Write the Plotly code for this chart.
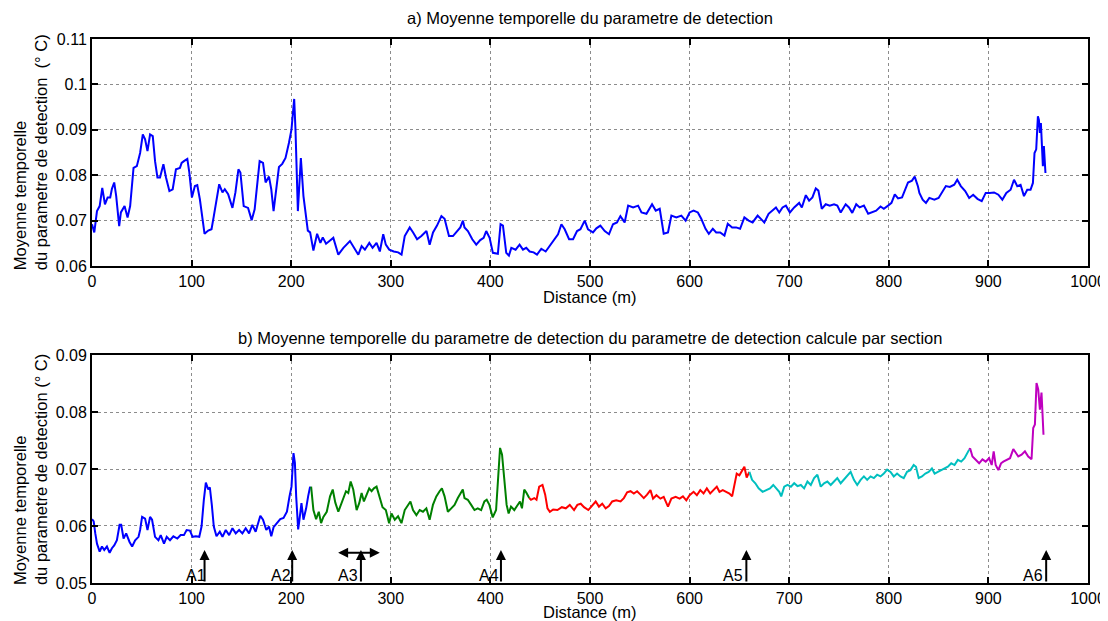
import plotly.graph_objects as go

# a) moyenne temporelle (courbe complete)
dist_a = [0, 2.3, 5, 7.7, 10.3, 13, 15.7, 18.3, 20, 22.3, 24.3, 27.3, 29, 32.7, 35.7, 38.3, 41.7, 45, 48.3, 51,
          53.3, 55.7, 58.3, 61, 63.3, 65.7, 68.3, 71.7, 74.3, 77.7, 81, 84.3, 88.3, 90, 92.3, 95.7, 97.7, 100.3,
          103.3, 105.7, 108.3, 113, 116.7, 120, 122.3, 125, 127.7, 131, 133.3, 136.7, 141, 144, 147, 149, 152.3,
          156.7, 160.3, 163.3, 168.3, 171.7, 174.3, 177.7, 180, 182.3, 185, 187.7, 191, 194.3, 197.7, 200.3, 203,
          204.3, 206.7, 209.7, 212.3, 216.7, 219, 222.3, 226, 229.3, 231.7, 235, 239, 242.3, 247.3, 252.4, 259,
          264, 267.4, 270.7, 274, 278.4, 281.7, 285.7, 289, 292.4, 295, 298.4, 303, 307.4, 310.8, 314, 319, 322.4,
          326.4, 330.7, 335.8, 339, 342.4, 346.4, 350.8, 354, 358.4, 362.4, 365.8, 369.8, 372.4, 374, 377.4, 381.8,
          385.8, 389.8, 393.2, 395.8, 399.2, 402.5, 407.5, 410.2, 412.6, 415.9, 418.6, 421, 425.3, 429.3, 432.7,
          436, 439.4, 443.4, 446.8, 451.1, 455.5, 459.5, 463.5, 467.9, 471.3, 474.6, 479, 483, 487, 490.4, 494.7,
          498, 503, 506.4, 510.4, 514.8, 519.1, 523.1, 527.1, 530.5, 534.8, 538.3, 543.3, 548.3, 551.7, 556.7,
          562.3, 566, 570, 574, 578.3, 581.7, 586.7, 591.7, 596, 600, 604, 608.3, 611.7, 616, 619.3, 623.3, 626.7,
          630.7, 635, 638.3, 642.7, 646.7, 650.7, 655, 659.3, 663.3, 668.3, 671.7, 675, 679.3, 683.3, 686.7, 690,
          693.3, 696.7, 700.7, 705, 710, 712.7, 716.7, 720, 723.3, 726.7, 729.3, 732.7, 736.7, 740.7, 745, 748.3,
          751.7, 756.7, 760, 763.3, 767.3, 770.7, 775, 779.3, 783.3, 787.3, 791.7, 795, 799.3, 802.7, 806, 809.3,
          813.3, 816, 819.3, 823.3, 826, 829.3, 830.7, 834, 837.3, 840.7, 845.7, 850, 854, 857.3, 861.3, 865.7,
          868.7, 872.3, 876.7, 880.7, 884.7, 889, 893.3, 897.3, 901.3, 905.7, 910, 914, 918, 922.3, 925.7, 929,
          932.3, 935.7, 939, 942.3, 944.7, 946.3, 948, 949.7, 950.7, 951.7, 952.7, 954, 954.7, 955.7, 957.3]
moy_a = [0.0692, 0.0674, 0.0721, 0.0732, 0.0772, 0.0736, 0.0751, 0.0751, 0.077, 0.0784, 0.0754, 0.0688, 0.0718,
         0.0732, 0.0707, 0.0732, 0.0816, 0.082, 0.0849, 0.089, 0.0879, 0.0853, 0.089, 0.0886, 0.0831, 0.0795,
         0.0795, 0.0824, 0.0795, 0.0765, 0.0769, 0.0813, 0.0816, 0.0827, 0.0831, 0.0836, 0.0806, 0.0751, 0.0776,
         0.0778, 0.0747, 0.0671, 0.0678, 0.0681, 0.071, 0.0747, 0.078, 0.0762, 0.0769, 0.0758, 0.0728, 0.0762,
         0.0813, 0.0806, 0.0732, 0.0728, 0.0701, 0.0725, 0.0831, 0.0827, 0.0784, 0.0797, 0.0769, 0.0721, 0.0776,
         0.0818, 0.0825, 0.0838, 0.0871, 0.0901, 0.0968, 0.0901, 0.0721, 0.0838, 0.0754, 0.0678, 0.0674, 0.0634,
         0.0671, 0.0651, 0.0663, 0.0649, 0.0656, 0.0662, 0.0625, 0.064, 0.0655, 0.0636, 0.0625, 0.0644, 0.0636,
         0.0651, 0.064, 0.0651, 0.0632, 0.067, 0.0647, 0.0636, 0.0632, 0.063, 0.0625, 0.0666, 0.0685, 0.0674,
         0.0659, 0.0666, 0.0677, 0.0647, 0.0674, 0.0689, 0.071, 0.0704, 0.0666, 0.0666, 0.0675, 0.0685, 0.07,
         0.0685, 0.0677, 0.0659, 0.0647, 0.0657, 0.0662, 0.0677, 0.0662, 0.0629, 0.0627, 0.0692, 0.0689, 0.0629,
         0.0623, 0.064, 0.0636, 0.0647, 0.0636, 0.064, 0.0632, 0.063, 0.0625, 0.0638, 0.0632, 0.0644, 0.0655,
         0.067, 0.0692, 0.0681, 0.0659, 0.0659, 0.0677, 0.0681, 0.07, 0.0681, 0.0674, 0.0683, 0.0689, 0.0677,
         0.067, 0.0692, 0.0696, 0.071, 0.0696, 0.0733, 0.0729, 0.0733, 0.0718, 0.0715, 0.0736, 0.0722, 0.0726,
         0.0671, 0.0674, 0.0711, 0.0707, 0.0711, 0.07, 0.0718, 0.0722, 0.0718, 0.0704, 0.0682, 0.0671, 0.0682,
         0.0674, 0.0674, 0.0667, 0.0693, 0.0685, 0.0685, 0.0682, 0.0707, 0.07, 0.0696, 0.0711, 0.0704, 0.0696,
         0.0715, 0.0722, 0.0729, 0.0718, 0.0729, 0.0733, 0.0718, 0.0729, 0.0739, 0.0729, 0.0756, 0.0744, 0.0751,
         0.0771, 0.0766, 0.0726, 0.0736, 0.0733, 0.0736, 0.0733, 0.0718, 0.0736, 0.0729, 0.0717, 0.0736, 0.0729,
         0.0733, 0.0715, 0.0718, 0.0722, 0.0731, 0.0726, 0.0733, 0.0739, 0.0758, 0.0749, 0.0751, 0.0766, 0.0784,
         0.0788, 0.0797, 0.0775, 0.0761, 0.0746, 0.0739, 0.075, 0.0746, 0.075, 0.0765, 0.0776, 0.0774, 0.0779,
         0.079, 0.0776, 0.0765, 0.075, 0.0757, 0.0748, 0.0743, 0.0761, 0.0761, 0.0762, 0.0757, 0.0746, 0.0761,
         0.0768, 0.079, 0.0776, 0.0779, 0.0754, 0.0768, 0.0768, 0.0783, 0.0849, 0.0857, 0.093, 0.0922, 0.0893,
         0.0915, 0.0864, 0.082, 0.0864, 0.0805]

# b) moyenne calculee par section
dist_s1 = [0, 1.7, 3.3, 5, 7.7, 10, 12.3, 15, 17.7, 20, 22.3, 25, 27.7, 29.3, 31.7, 34.3, 37.7, 40.3, 43.3, 46.7,
           48.3, 50.3, 53.3, 55.7, 58.3, 60.3, 63.3, 66.7, 69, 72.3, 75, 78.3, 81.7, 85.7, 89, 92.3, 95, 98.3, 101,
           104.3, 107.7, 110, 112.3, 114.3, 116.7, 118.3, 120.3, 122.3, 125, 128.3, 131, 134.3, 137.7, 141, 144.3,
           147.7, 151, 154.3, 157.7, 161, 164.3, 167, 169, 171.7, 175, 177.7, 180, 182.3, 185.7, 189, 192.3, 195.7,
           198.3, 200.3, 202.3, 203.7, 205, 207, 208.3, 210.3, 212.3, 215, 217, 219]
moy_s1 = [0.0612, 0.0608, 0.0587, 0.0569, 0.0555, 0.0564, 0.0558, 0.0564, 0.0553, 0.0561, 0.0566, 0.0575, 0.0602,
          0.0602, 0.0578, 0.0587, 0.0572, 0.0564, 0.0575, 0.0581, 0.0593, 0.0616, 0.0613, 0.0593, 0.0616, 0.0611,
          0.0581, 0.0575, 0.0584, 0.0569, 0.0581, 0.0575, 0.0582, 0.0578, 0.0584, 0.0584, 0.0593, 0.0592, 0.0581,
          0.0582, 0.0581, 0.0599, 0.0646, 0.0676, 0.0664, 0.0668, 0.0637, 0.0599, 0.0582, 0.059, 0.0581, 0.0593,
          0.0584, 0.0596, 0.0587, 0.0593, 0.0587, 0.0596, 0.0587, 0.0602, 0.059, 0.0608, 0.0618, 0.0611, 0.0593,
          0.0599, 0.0582, 0.0598, 0.0605, 0.0612, 0.0614, 0.0625, 0.0652, 0.0669, 0.0728, 0.0711, 0.0652, 0.0594,
          0.0611, 0.064, 0.0611, 0.0631, 0.0652, 0.0669]

dist_s2 = [220, 222.3, 225, 227.7, 230, 232.3, 235.7, 239, 241.7, 244.3, 247.3, 250.7, 255, 257.3, 259.7, 262.3,
           265.7, 268.3, 270.7, 273, 275.7, 278.3, 280.7, 283, 285.7, 288.3, 291.7, 295, 298.3, 300.7, 304, 307.3,
           310.7, 314, 317.3, 319.7, 322.3, 325.7, 329, 332.3, 335.7, 339, 342.3, 345.7, 349, 351.3, 354, 357.3,
           360.7, 364, 367.3, 370.7, 372.3, 374, 377.3, 380.7, 384, 387.3, 390.7, 394, 396.3, 399, 402.3, 405.7,
           408, 409.7, 411.7, 414, 416.3, 418.3, 420.7, 424, 427.3, 429.7, 431.7, 434, 436.3, 439]
moy_s2 = [0.0669, 0.0628, 0.0612, 0.0625, 0.0605, 0.0616, 0.0625, 0.0652, 0.0664, 0.0641, 0.0625, 0.064, 0.0661,
          0.0658, 0.0678, 0.0664, 0.0628, 0.064, 0.0658, 0.0643, 0.0655, 0.0666, 0.0661, 0.0666, 0.0669, 0.0655,
          0.0633, 0.0628, 0.0605, 0.0622, 0.0611, 0.0617, 0.0605, 0.0628, 0.0637, 0.0643, 0.0628, 0.0619, 0.0628,
          0.0625, 0.0631, 0.0611, 0.0637, 0.0652, 0.0661, 0.0666, 0.0652, 0.0625, 0.0631, 0.0637, 0.0649, 0.0658,
          0.0664, 0.0649, 0.0646, 0.0637, 0.0628, 0.0631, 0.0628, 0.0643, 0.0646, 0.0637, 0.0615, 0.0628, 0.0681,
          0.0737, 0.0725, 0.0681, 0.0637, 0.0622, 0.0634, 0.0628, 0.0637, 0.0643, 0.0631, 0.0664, 0.0658, 0.0649]

dist_s3 = [439, 440.7, 444, 446.3, 449, 452.3, 455, 457.3, 459.7, 463, 467.3, 471.7, 475.7, 479.7, 484, 487.3,
           490.7, 494, 498.3, 502.3, 505.7, 509, 512.3, 515.7, 519, 522.3, 526.3, 530.7, 534, 537.3, 540.7, 544,
           547.3, 550.7, 554, 557.3, 560.7, 563.3, 566.7, 570.7, 574, 578.3, 581.7, 586, 590, 593.3, 596.7, 600,
           604, 607.3, 610.7, 614, 617.3, 620.7, 624, 627.3, 630, 633.3, 636.7, 640, 642.7, 645, 647.3, 650, 652.7,
           655, 657.3, 659.3, 660]
moy_s3 = [0.0649, 0.0646, 0.0649, 0.0646, 0.0669, 0.0672, 0.0655, 0.0631, 0.0625, 0.0629, 0.0628, 0.0633, 0.0631,
          0.0637, 0.0628, 0.0637, 0.0639, 0.0633, 0.0628, 0.0637, 0.0643, 0.0634, 0.0639, 0.0631, 0.0635, 0.0643,
          0.0645, 0.0643, 0.0649, 0.0659, 0.0661, 0.0657, 0.0661, 0.0655, 0.0649, 0.0655, 0.0663, 0.0648, 0.0654,
          0.0648, 0.0651, 0.0634, 0.0648, 0.0651, 0.0648, 0.0652, 0.0645, 0.0654, 0.066, 0.0654, 0.0663, 0.0657,
          0.0666, 0.0657, 0.0663, 0.0669, 0.066, 0.0663, 0.066, 0.0657, 0.0652, 0.0672, 0.0692, 0.0689, 0.0698,
          0.0704, 0.0685, 0.0692, 0.0695]

dist_s4 = [660, 662.7, 666, 669.3, 673.3, 677.3, 680.7, 684, 686.7, 690, 692, 695, 698.3, 701.7, 705, 708.3,
           711.7, 715, 718.3, 721.7, 725, 728.3, 731.7, 735, 738.3, 741.7, 745, 748.3, 751.7, 755, 758.3, 761.7,
           765, 768.3, 771.7, 775, 778.3, 781.7, 785, 788.3, 791.7, 795, 798.3, 801.7, 805, 808.3, 811.7, 815,
           818.3, 821.7, 825, 827.3, 830, 833.3, 836.7, 840, 843.3, 846, 849.3, 852.7, 856, 859.3, 862.7, 866,
           869.3, 872.7, 876, 879.3, 880.7]
moy_s4 = [0.0695, 0.0681, 0.0675, 0.0666, 0.066, 0.0663, 0.0666, 0.0672, 0.0666, 0.066, 0.0652, 0.0669, 0.0672,
          0.0669, 0.0675, 0.067, 0.0672, 0.0666, 0.0678, 0.0672, 0.0684, 0.069, 0.0669, 0.0675, 0.0678, 0.0672,
          0.0678, 0.0684, 0.0675, 0.0681, 0.0687, 0.0695, 0.0681, 0.0672, 0.0681, 0.0687, 0.0681, 0.0687, 0.0684,
          0.069, 0.0687, 0.0692, 0.0699, 0.0695, 0.0687, 0.0692, 0.0687, 0.0684, 0.0695, 0.0698, 0.0707, 0.0704,
          0.0684, 0.0687, 0.0692, 0.0695, 0.0701, 0.0692, 0.0695, 0.0698, 0.0701, 0.0704, 0.071, 0.0707, 0.0716,
          0.0713, 0.0719, 0.0728, 0.0734]

dist_s5 = [880.7, 881.7, 884, 887.3, 890.7, 894, 897.3, 900.7, 903.3, 905.3, 907.3, 910, 912.7, 915, 918.3, 921.7,
           925, 927.3, 930, 933.3, 936.7, 940, 943.3, 945, 946.7, 948.3, 950, 951.7, 953.3, 954.3, 955.3]
moy_s5 = [0.0734, 0.0736, 0.0722, 0.0716, 0.071, 0.0717, 0.0713, 0.0719, 0.0707, 0.0731, 0.0707, 0.0698, 0.071,
          0.0713, 0.0716, 0.0719, 0.0735, 0.0728, 0.0722, 0.0725, 0.0731, 0.0722, 0.0717, 0.0772, 0.0778, 0.0851,
          0.084, 0.0804, 0.0834, 0.0798, 0.076]

sections = [(dist_s1, moy_s1, "#0000ff"), (dist_s2, moy_s2, "#008000"), (dist_s3, moy_s3, "#ff0000"),
            (dist_s4, moy_s4, "#00bfbf"), (dist_s5, moy_s5, "#bf00bf")]

# reperes A1..A6
reperes = ["A1", "A2", "A3", "A4", "A5", "A6"]
reperes_x = [113, 201, 270, 410.6, 657, 958]
reperes_txt_x = [104, 190, 257, 399, 644, 945]
a3_gauche, a3_droite = 245.6, 289

fig = go.Figure()
fig.add_trace(go.Scatter(x=dist_a, y=moy_a, mode="lines", line=dict(color="#0000ff", width=2),
                         xaxis="x", yaxis="y", showlegend=False))
for d, m, c in sections:
    fig.add_trace(go.Scatter(x=d, y=m, mode="lines", line=dict(color=c, width=2),
                             xaxis="x2", yaxis="y2", showlegend=False))

police = dict(family="Liberation Sans, Arial, sans-serif", size=16.5, color="black")
axe = dict(showline=True, linecolor="black", linewidth=2, mirror="allticks", ticks="inside", ticklen=6,
           tickwidth=2, tickcolor="black", showgrid=True, gridcolor="#8c8c8c", griddash="dot", gridwidth=1,
           zeroline=False, automargin=False,
           tickfont=dict(family="Liberation Sans, Arial, sans-serif", size=16, color="black"))

# la page ajoute ~8 px de marge autour de la figure : on compense
fig.update_layout(
    width=1100, height=613, plot_bgcolor="white", paper_bgcolor="white",
    margin=dict(l=84, r=20, t=31, b=38),
    font=police,
    xaxis=dict(domain=[0, 1], range=[0, 1000], dtick=100, anchor="y", **axe),
    yaxis=dict(domain=[0.5827, 1], range=[0.06, 0.11], dtick=0.01, anchor="x", **axe),
    xaxis2=dict(domain=[0, 1], range=[0, 1000], dtick=100, anchor="y2", **axe),
    yaxis2=dict(domain=[0, 0.4191], range=[0.05, 0.09], dtick=0.01, anchor="x2", **axe),
)

annots = [
    dict(text="a) Moyenne temporelle du parametre de detection", x=0.5, y=1.0386),
    dict(text="b) Moyenne temporelle du parametre de detection du parametre de detection calcule par section",
         x=0.5, y=0.4504),
    dict(text="Distance (m)", x=0.5, y=0.5257),
    dict(text="Distance (m)", x=0.5, y=-0.053),
    dict(text="Moyenne temporelle<br>du parametre de detection  (° C)", x=-0.0622, y=0.792, textangle=-90,
         align="left"),
    dict(text="Moyenne temporelle<br>du parametre de detection (° C)", x=-0.0622, y=0.2077, textangle=-90,
         align="left"),
]
for a in annots:
    fig.add_annotation(xref="paper", yref="paper", showarrow=False, xanchor="center", yanchor="middle",
                       font=police, **a)

for nom, xa, xt in zip(reperes, reperes_x, reperes_txt_x):
    fig.add_annotation(x=xa, y=0.0558, ax=xa, ay=0.05, xref="x2", yref="y2", axref="x2", ayref="y2",
                       text="", showarrow=True, arrowhead=2, arrowsize=1, arrowwidth=2, arrowcolor="black")
    fig.add_annotation(x=xt, y=0.0514, xref="x2", yref="y2", text=nom, showarrow=False,
                       font=dict(police, size=16))

fig.add_annotation(x=a3_droite, y=0.0553, ax=a3_gauche, ay=0.0553, xref="x2", yref="y2", axref="x2",
                   ayref="y2", text="", showarrow=True, arrowhead=2, arrowside="end+start", arrowsize=1,
                   arrowwidth=2, arrowcolor="black")

fig.write_html("out.html")
